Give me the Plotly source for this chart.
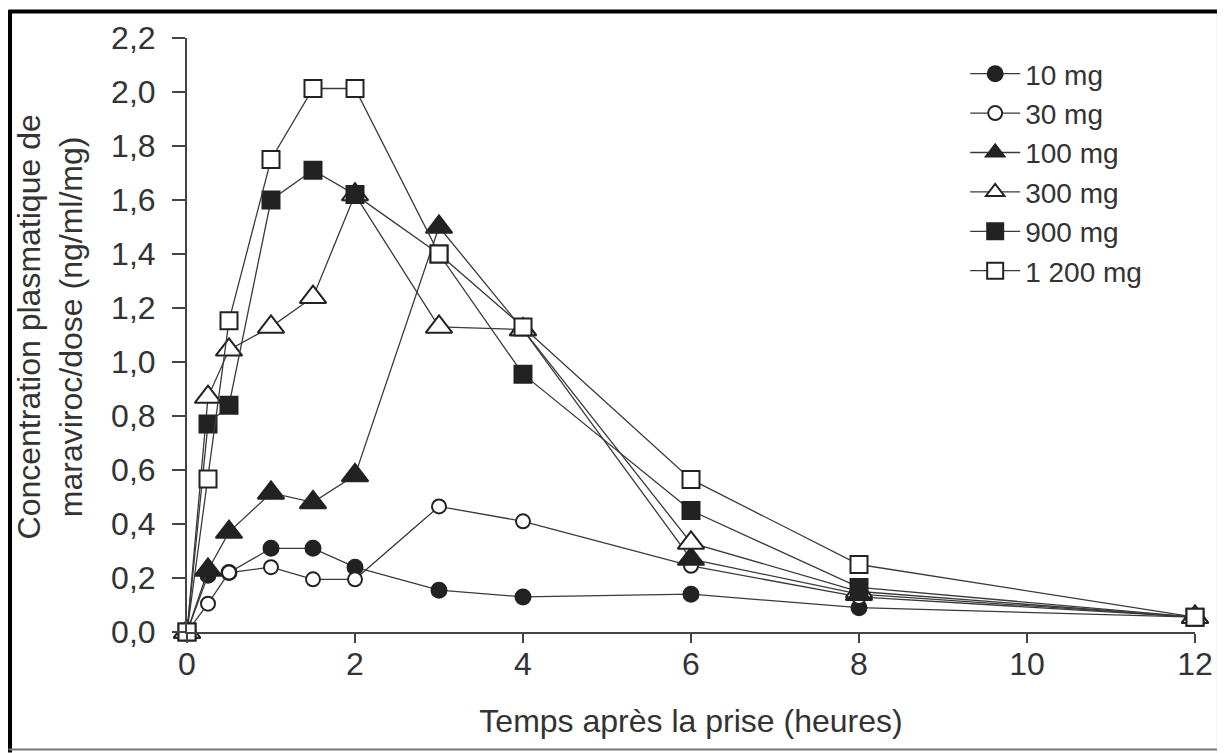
import plotly.graph_objects as go

# Temps après la prise (heures)
temps = [0, 0.25, 0.5, 1, 1.5, 2, 3, 4, 6, 8, 12]

# concentration / dose (ng/ml/mg)
c_10mg = [0, 0.21, 0.22, 0.31, 0.31, 0.24, 0.155, 0.13, 0.14, 0.09, 0.055]
c_30mg = [0, 0.105, 0.22, 0.24, 0.195, 0.195, 0.465, 0.41, 0.245, 0.13, 0.055]
c_100mg = [0, 0.23, 0.37, 0.515, 0.48, 0.58, 1.50, 1.12, 0.27, 0.14, 0.055]
c_300mg = [0, 0.87, 1.045, 1.13, 1.24, 1.62, 1.13, 1.12, 0.33, 0.15, 0.055]
c_900mg = [0, 0.77, 0.84, 1.60, 1.71, 1.62, 1.40, 0.955, 0.45, 0.165, 0.055]
c_1200mg = [0, 0.567, 1.153, 1.75, 2.013, 2.013, 1.40, 1.13, 0.565, 0.25, 0.055]

noms = ['10 mg', '30 mg', '100 mg', '300 mg', '900 mg', '1 200 mg']
series = [c_10mg, c_30mg, c_100mg, c_300mg, c_900mg, c_1200mg]

# symbol, fill, size
styles = [('circle', '#222222', 15),
          ('circle', 'white', 14),
          ('triangle-up', '#222222', 23),
          ('triangle-up', 'white', 23),
          ('square', '#222222', 17),
          ('square', 'white', 17)]

FONT = 'Liberation Sans, Arial, sans-serif'
TXT = '#333333'
W, H = 1217, 745   # page has an 8px body margin
L, R, T, B = 179, 27, 28, 121

fig = go.Figure()
for nom, y, (sym, fill, size) in zip(noms, series, styles):
    fig.add_trace(go.Scatter(
        x=temps, y=y, name=nom, mode='lines+markers', cliponaxis=False,
        line=dict(color='#3a3a3a', width=1.3),
        marker=dict(symbol=sym, color=fill, size=size,
                    line=dict(color='#222222', width=2))))

# frame around the picture (thick left/top, thin grey right/bottom)
pw, ph = W - L - R, H - T - B

def px(x):
    return (x - L) / pw

def py(y):
    return (H - B - y) / ph

frame = [(1.5, 0, 1.5, H, 'black', 4), (0, 1.5, W, 1.5, 'black', 4),
         (1213, 0, 1213, H, '#777777', 2), (0, 742, W, 742, '#777777', 2)]
for x0, y0, x1, y1, col, w in frame:
    fig.add_shape(type='line', xref='paper', yref='paper',
                  x0=px(x0), y0=py(y0), x1=px(x1), y1=py(y1),
                  line=dict(color=col, width=w))

# y title as a rotated annotation so it can sit close to the frame
fig.add_annotation(text='Concentration plasmatique de<br>maraviroc/dose (ng/ml/mg)',
                   xref='paper', yref='paper', x=px(42), y=py(318),
                   xanchor='center', yanchor='middle', textangle=-90,
                   showarrow=False, font=dict(size=32, color=TXT))

fig.update_layout(
    width=W, height=H,
    margin=dict(l=L, r=R, t=T, b=B),
    paper_bgcolor='white', plot_bgcolor='white',
    separators=', ',
    font=dict(family=FONT, size=32, color=TXT),
    showlegend=True,
    legend=dict(x=0.772, y=0.9815, xanchor='left', yanchor='top',
                bgcolor='rgba(0,0,0,0)', font=dict(size=28, color=TXT),
                itemwidth=50, tracegroupgap=0),
    xaxis=dict(range=[0, 12], tickvals=[0, 2, 4, 6, 8, 10, 12],
               showgrid=False, zeroline=False, showline=True,
               linecolor='#444444', linewidth=2,
               ticks='outside', ticklen=9, tickwidth=2, tickcolor='#444444',
               ticklabelstandoff=-6,
               tickfont=dict(size=32, color=TXT),
               title=dict(text='Temps après la prise (heures)', standoff=28,
                          font=dict(size=32, color=TXT))),
    yaxis=dict(range=[0, 2.2], tick0=0, dtick=0.2, tickformat='.1f',
               showgrid=False, zeroline=False, showline=True,
               linecolor='#444444', linewidth=2,
               ticks='outside', ticklen=13, tickwidth=2, tickcolor='#444444',
               ticklabelstandoff=10,
               tickfont=dict(size=32, color=TXT)),
)

fig.write_html("out.html")
